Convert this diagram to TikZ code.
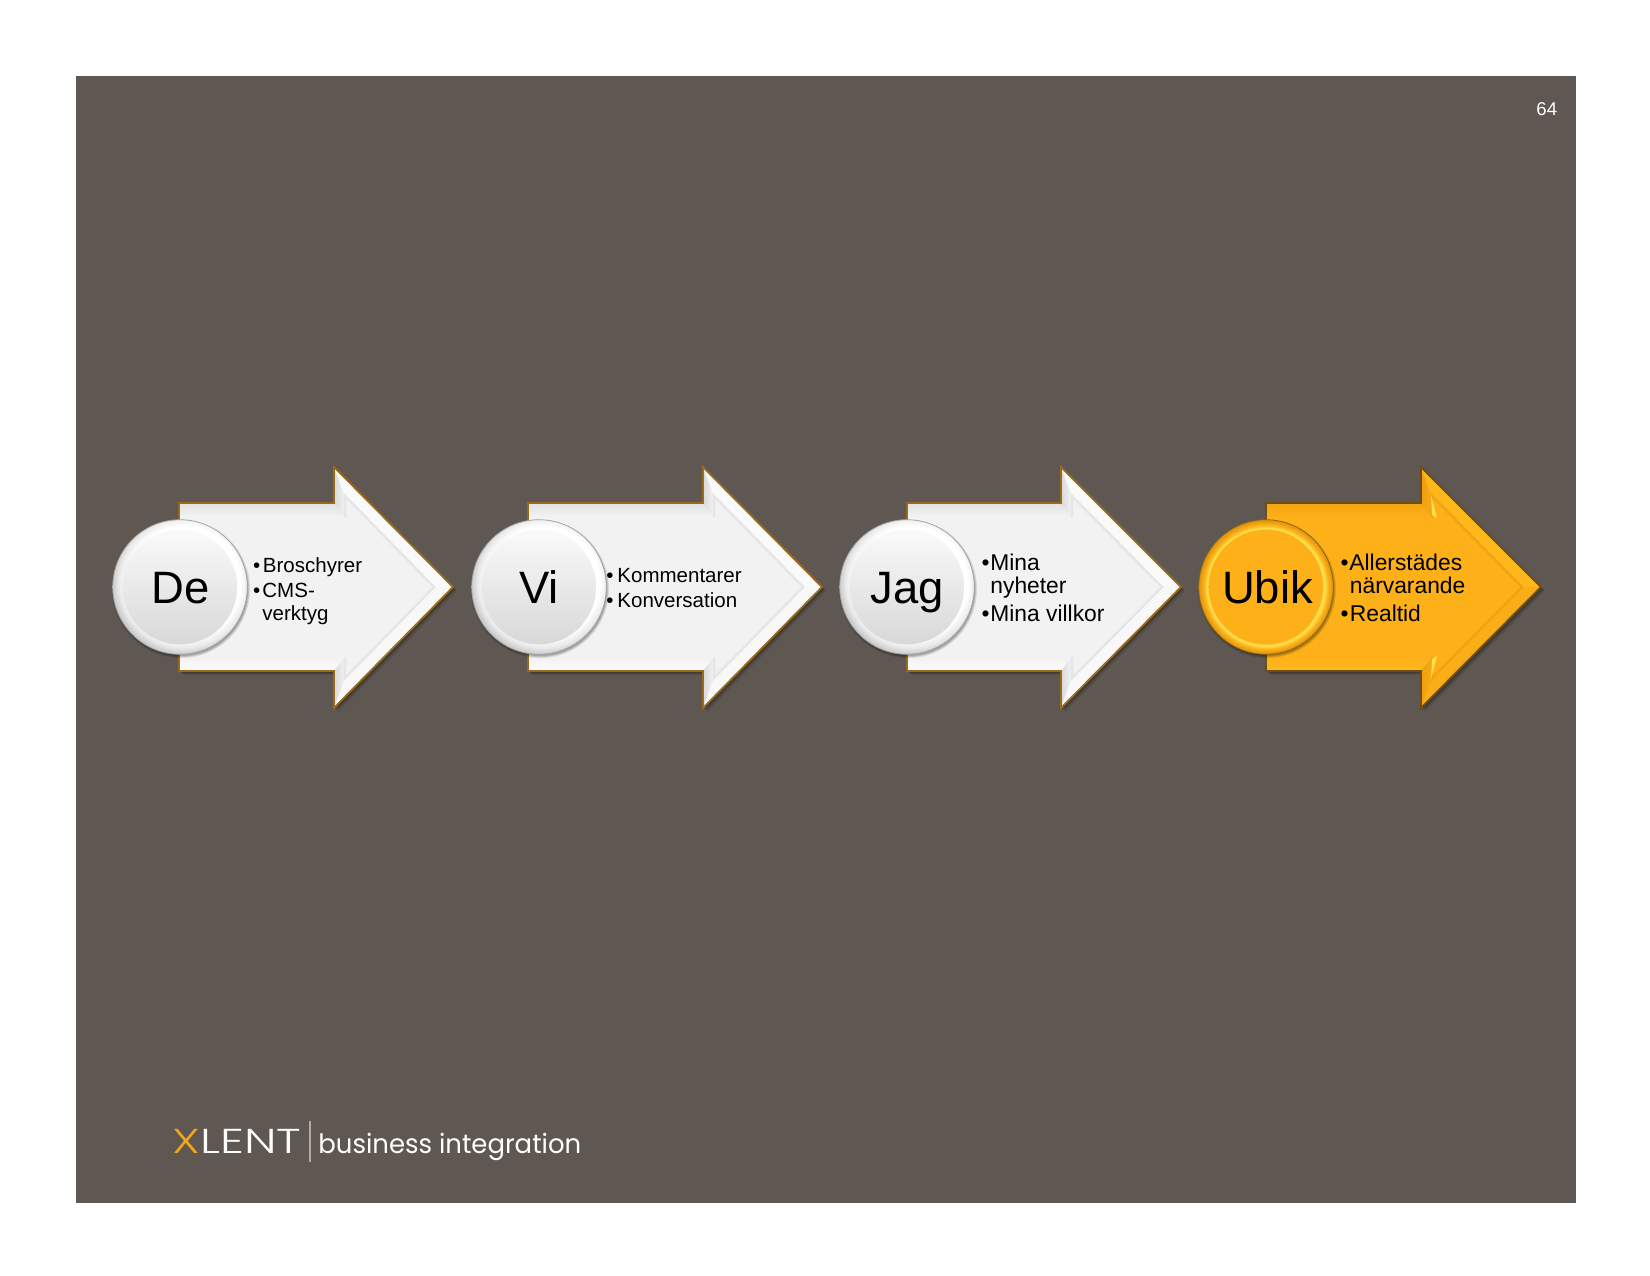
\documentclass[tikz,border=0pt]{standalone}
\usepackage{fontspec}
\setmainfont{Liberation Sans}
\newfontfamily\logofont{Poppins}
\newfontfamily\logolight{Poppins Light}
\usetikzlibrary{calc}
\definecolor{panel}{HTML}{5F5751}
\definecolor{logoorange}{HTML}{F0A51E}
\pgfdeclareradialshading{silverring}{\pgfpoint{2.5bp}{3bp}}{%
  color(0bp)=(white); color(21bp)=(white); color(24bp)=(white!92!black); color(27bp)=(white!76!black); color(50bp)=(white!66!black)}
\pgfdeclareradialshading{goldring}{\pgfpoint{0bp}{0bp}}{%
  color(0bp)=(rgb,255:red,253;green,176;blue,24); color(20.5bp)=(rgb,255:red,253;green,176;blue,24);
  color(21.8bp)=(rgb,255:red,255;green,226;blue,80); color(23bp)=(rgb,255:red,253;green,180;blue,28);
  color(25bp)=(rgb,255:red,222;green,146;blue,10); color(50bp)=(rgb,255:red,222;green,146;blue,10)}
\newcommand{\usesilver}{%
  \definecolor{aface}{HTML}{F2F2F2}\definecolor{aedge}{HTML}{9A6A1C}%
  \definecolor{btopa}{HTML}{E2E2E2}\definecolor{btopb}{HTML}{F3F3F3}%
  \definecolor{bbota}{HTML}{F2F2F2}\definecolor{bbotb}{HTML}{FCFCFC}%
  \definecolor{bbacka}{HTML}{D8D8D8}\definecolor{bbackb}{HTML}{F4F4F4}%
  \definecolor{bdiagu}{HTML}{FAFAFA}\definecolor{bdiagl}{HTML}{F8F8F8}%
  \definecolor{bin}{HTML}{E6E6EA}%
  \definecolor{disctop}{HTML}{FAFAFA}\definecolor{discbot}{HTML}{D8D8D8}%
  \definecolor{glint}{HTML}{FFFFFF}\definecolor{cedge}{HTML}{A0A0A0}%
  \def\ringname{silverring}}
\newcommand{\usegold}{%
  \definecolor{aface}{HTML}{FDB018}\definecolor{aedge}{HTML}{6E4E12}%
  \definecolor{btopa}{HTML}{F4A512}\definecolor{btopb}{HTML}{FDB018}%
  \definecolor{bbota}{HTML}{FDB018}\definecolor{bbotb}{HTML}{FFB920}%
  \definecolor{bbacka}{HTML}{EC9E0E}\definecolor{bbackb}{HTML}{FAAC16}%
  \definecolor{bdiagu}{HTML}{FFB71C}\definecolor{bdiagl}{HTML}{F9AD16}%
  \definecolor{bin}{HTML}{F2A410}%
  \definecolor{disctop}{HTML}{FDB018}\definecolor{discbot}{HTML}{FDB018}%
  \definecolor{glint}{HTML}{FFE050}\definecolor{cedge}{HTML}{8A6414}%
  \def\ringname{goldring}}
% #1 left, #2 head back, #3 tip, #4 name of the disc, #5 disc centre x
\newcommand{\bevelarrow}[5]{%
  \foreach \off/\op in {4/.08,3/.10,2/.14,1/.16}{%
    \fill[black,opacity=\op] (#1+\off,503+\off) -- (#2+\off,503+\off) -- (#2+\off,467+\off) -- (#3+\off,587+\off) -- (#2+\off,708+\off) -- (#2+\off,671+\off) -- (#1+\off,671+\off) -- cycle;}
  \fill[aface] (#1,503) -- (#2,503) -- (#2,467) -- (#3,587) -- (#2,708) -- (#2,671) -- (#1,671) -- cycle;
  \shade[top color=btopa,bottom color=btopb] (#1,503) -- (#2,503) -- (#2+11,517) -- (#1,517) -- cycle;
  \shade[top color=bbota,bottom color=bbotb] (#1,657) -- (#2+11,657) -- (#2,671) -- (#1,671) -- cycle;
  \shade[left color=bbacka,right color=bbackb] (#2,503) -- (#2,467) -- (#2+11,496) -- (#2+11,517) -- cycle;
  \shade[left color=bbacka,right color=bbackb] (#2,671) -- (#2,708) -- (#2+11,678) -- (#2+11,657) -- cycle;
  \fill[bdiagu] (#2,467) -- (#3,587) -- (#3-19,587) -- (#2+11,496) -- cycle;
  \fill[bdiagl] (#2,708) -- (#3,587) -- (#3-19,587) -- (#2+11,678) -- cycle;
  \draw[bin,line width=1.2pt,line join=miter] (#2+11,517) -- (#2+11,496) -- (#3-19,587) -- (#2+11,678) -- (#2+11,657);
  \draw[aedge,line width=.9pt,line join=miter] (#1,503) -- (#2,503) -- (#2,467) -- (#3,587) -- (#2,708) -- (#2,671) -- (#1,671) -- cycle;
  \foreach \rad/\op in {69/.10,68/.12,67/.14}{%
    \fill[black,opacity=\op] (#5+1,589) circle[radius=\rad];}
  \node[discring,shading=\ringname] (#4) at (#5,587) {};
  \node[discface,top color=disctop,bottom color=discbot] (#4f) at (#5,587) {};
  \draw[glint,line width=.7pt,opacity=.8] (#5,587) ++(-60:58) arc[start angle=-60,end angle=40,radius=58];
}
\tikzset{
  discring/.style={circle,minimum size=64.6pt,inner sep=0pt,draw=cedge,line width=.35pt},
  discface/.style={circle,minimum size=55pt,inner sep=0pt},
  bigtext/.style={anchor=base,font=\fontsize{21.8}{24}\selectfont,text=black,inner sep=0pt},
  smalla/.style={anchor=base west,font=\fontsize{9.85}{11}\selectfont,text=black,inner sep=0pt},
  smallb/.style={anchor=base west,font=\fontsize{10.95}{12}\selectfont,text=black,inner sep=0pt},
  glintshape/.style={fill=glint},
}
\newcommand{\bul}[1]{\llap{•\hspace{#1}}}
\begin{document}
\begin{tikzpicture}[x=0.48pt,y=-0.48pt]
\useasboundingbox (0,0) rectangle (1650,1275);
\fill[white] (0,0) rectangle (1650,1275);
\fill[panel] (76,76) rectangle (1576,1203);
\node[anchor=base east,inner sep=0pt,text=white,font=\fontsize{8.9}{10}\selectfont] (pagenum) at (1557.5,115) {64};

\usesilver
\bevelarrow{179}{334}{453}{d1}{180}
\bevelarrow{528}{703}{822}{d2}{539}
\bevelarrow{907}{1061}{1181}{d3}{907}
\usegold
\bevelarrow{1266}{1421}{1541}{d4}{1266}
\fill[glintshape] (1431,495) -- (1437,518) -- (1432,515) -- cycle;
\fill[glintshape] (1431,679) -- (1437,656) -- (1432,659) -- cycle;

\node[bigtext] (de) at (180.5,603) {De};
\node[bigtext] (vi) at (539,603) {Vi};
\node[bigtext] (jag) at (907.5,603) {Jag};
\node[bigtext] (ubik) at (1267.5,603) {Ubik};

\node[smalla] (a1) at (262.5,572) {\bul{1.2pt}Broschyrer};
\node[smalla] (a2) at (262,597) {\bul{1pt}CMS-};
\node[smalla] (a3) at (262,620) {verktyg};

\node[smalla] (b1) at (617,582) {\bul{1.8pt}Kommentarer};
\node[smalla] (b2) at (617,607) {\bul{1.8pt}Konversation};

\node[smallb] (c1) at (990,570) {\bul{.4pt}Mina};
\node[smallb] (c2) at (990,593) {nyheter};
\node[smallb] (c3) at (990,621) {\bul{.4pt}Mina villkor};

\node[smallb] (e1) at (1349,570) {\bul{.4pt}Allerstädes};
\node[smallb] (e2) at (1349.5,593) {närvarande};
\node[smallb] (e3) at (1349.5,621) {\bul{.6pt}Realtid};

\node[anchor=base west,inner sep=0pt,font=\logolight\fontsize{16.6}{18}\selectfont,text=white] (logo) at (172.5,1153) {\scalebox{1.37}[1]{\textcolor{logoorange}{X}LENT}};
\draw[panel!50!white,line width=.6pt] (310,1121) -- (310,1162);
\node[anchor=base west,inner sep=0pt,font=\logofont\fontsize{12.8}{14}\selectfont,text=white] (tag) at (318,1153) {\scalebox{.972}[1]{business integration}};
\end{tikzpicture}
\end{document}
